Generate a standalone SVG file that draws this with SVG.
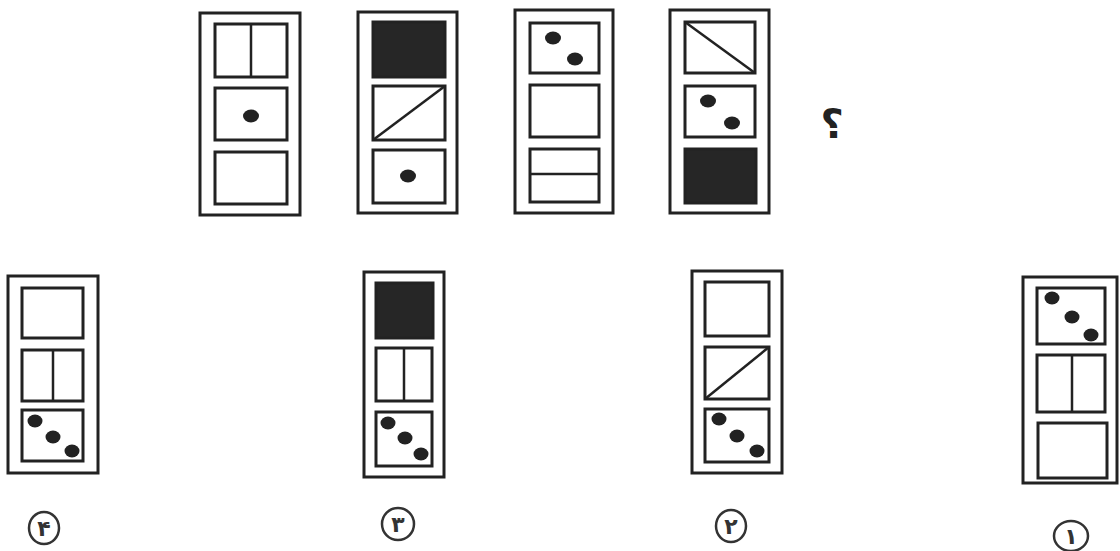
<svg xmlns="http://www.w3.org/2000/svg" width="1120" height="551" viewBox="0 0 1120 551">
<style>
.frame{fill:#fff;stroke:#222;stroke-width:3}
.box{fill:#fff;stroke:#222;stroke-width:3}
.blk{fill:#262626;stroke:#222;stroke-width:3}
.ln{stroke:#222;stroke-width:2.5;fill:none}
.dot{fill:#222}
.lab{fill:none;stroke:#333;stroke-width:2.5}
.num{font-family:"DejaVu Sans",sans-serif;font-size:22px;font-weight:bold;fill:#333;text-anchor:middle}
.q{font-family:"DejaVu Sans",sans-serif;font-size:40px;font-weight:bold;fill:#222;text-anchor:middle}
</style>
<rect width="1120" height="551" fill="#fff"/>
<g id="seq1">
<rect class="frame" x="200" y="13" width="100" height="202"/>
<rect class="box" x="215" y="24" width="72" height="53"/>
<line class="ln" x1="251" y1="24" x2="251" y2="77"/>
<rect class="box" x="215" y="88" width="72" height="52"/>
<ellipse class="dot" cx="251" cy="116" rx="8" ry="6.5"/>
<rect class="box" x="215" y="152" width="72" height="52"/>
</g>
<g id="seq2">
<rect class="frame" x="358" y="12" width="99" height="201"/>
<rect class="blk" x="373" y="22" width="72" height="55"/>
<rect class="box" x="373" y="86" width="72" height="54"/>
<line class="ln" x1="373" y1="140" x2="445" y2="86"/>
<rect class="box" x="373" y="150" width="72" height="53"/>
<ellipse class="dot" cx="408" cy="176" rx="8" ry="6.5"/>
</g>
<g id="seq3">
<rect class="frame" x="515" y="10" width="98" height="203"/>
<rect class="box" x="530" y="23" width="69" height="50"/>
<ellipse class="dot" cx="553" cy="38" rx="8" ry="6.5"/>
<ellipse class="dot" cx="575" cy="59" rx="8" ry="6.5"/>
<rect class="box" x="530" y="85" width="69" height="52"/>
<rect class="box" x="530" y="149" width="69" height="53"/>
<line class="ln" x1="530" y1="174" x2="599" y2="174"/>
</g>
<g id="seq4">
<rect class="frame" x="670" y="10" width="99" height="203"/>
<rect class="box" x="685" y="22" width="70" height="51"/>
<line class="ln" x1="685" y1="22" x2="755" y2="73"/>
<rect class="box" x="685" y="86" width="70" height="51"/>
<ellipse class="dot" cx="708" cy="101" rx="8" ry="6.5"/>
<ellipse class="dot" cx="732" cy="123" rx="8" ry="6.5"/>
<rect class="blk" x="685" y="149" width="71" height="54"/>
</g>
<g id="question">
<text class="q" x="832" y="138">؟</text>
</g>
<g id="opt4">
<rect class="frame" x="8" y="276" width="90" height="197"/>
<rect class="box" x="22" y="288" width="61" height="50"/>
<rect class="box" x="22" y="350" width="61" height="51"/>
<line class="ln" x1="53" y1="350" x2="53" y2="401"/>
<rect class="box" x="22" y="410" width="61" height="51"/>
<ellipse class="dot" cx="35" cy="421" rx="7.5" ry="6.5"/>
<ellipse class="dot" cx="53" cy="437" rx="7.5" ry="6.5"/>
<ellipse class="dot" cx="72" cy="451" rx="7.5" ry="6.5"/>
<ellipse class="lab" cx="44" cy="528" rx="15" ry="16"/>
<text class="num" x="44" y="536">۴</text>
</g>
<g id="opt3">
<rect class="frame" x="364" y="272" width="80" height="205"/>
<rect class="blk" x="376" y="283" width="57" height="55"/>
<rect class="box" x="376" y="348" width="56" height="53"/>
<line class="ln" x1="404" y1="348" x2="404" y2="401"/>
<rect class="box" x="376" y="412" width="56" height="54"/>
<ellipse class="dot" cx="388" cy="423" rx="7.5" ry="6.5"/>
<ellipse class="dot" cx="405" cy="438" rx="7.5" ry="6.5"/>
<ellipse class="dot" cx="421" cy="454" rx="7.5" ry="6.5"/>
<ellipse class="lab" cx="398" cy="524" rx="16" ry="16"/>
<text class="num" x="398" y="532">۳</text>
</g>
<g id="opt2">
<rect class="frame" x="692" y="271" width="90" height="202"/>
<rect class="box" x="705" y="282" width="64" height="54"/>
<rect class="box" x="705" y="347" width="64" height="52"/>
<line class="ln" x1="705" y1="399" x2="769" y2="347"/>
<rect class="box" x="705" y="409" width="64" height="53"/>
<ellipse class="dot" cx="719" cy="419" rx="7.5" ry="6.5"/>
<ellipse class="dot" cx="737" cy="436" rx="7.5" ry="6.5"/>
<ellipse class="dot" cx="757" cy="451" rx="7.5" ry="6.5"/>
<ellipse class="lab" cx="731" cy="526" rx="15" ry="16"/>
<text class="num" x="731" y="534">۲</text>
</g>
<g id="opt1">
<rect class="frame" x="1023" y="277" width="94" height="206"/>
<rect class="box" x="1037" y="288" width="68" height="56"/>
<ellipse class="dot" cx="1052" cy="298" rx="7.5" ry="6.5"/>
<ellipse class="dot" cx="1072" cy="317" rx="7.5" ry="6.5"/>
<ellipse class="dot" cx="1091" cy="335" rx="7.5" ry="6.5"/>
<rect class="box" x="1037" y="355" width="68" height="57"/>
<line class="ln" x1="1072" y1="355" x2="1072" y2="412"/>
<rect class="box" x="1038" y="423" width="69" height="55"/>
<ellipse class="lab" cx="1071" cy="536" rx="17" ry="15"/>
<text class="num" x="1071" y="544">۱</text>
</g>
<g id="connectors"></g>
</svg>
